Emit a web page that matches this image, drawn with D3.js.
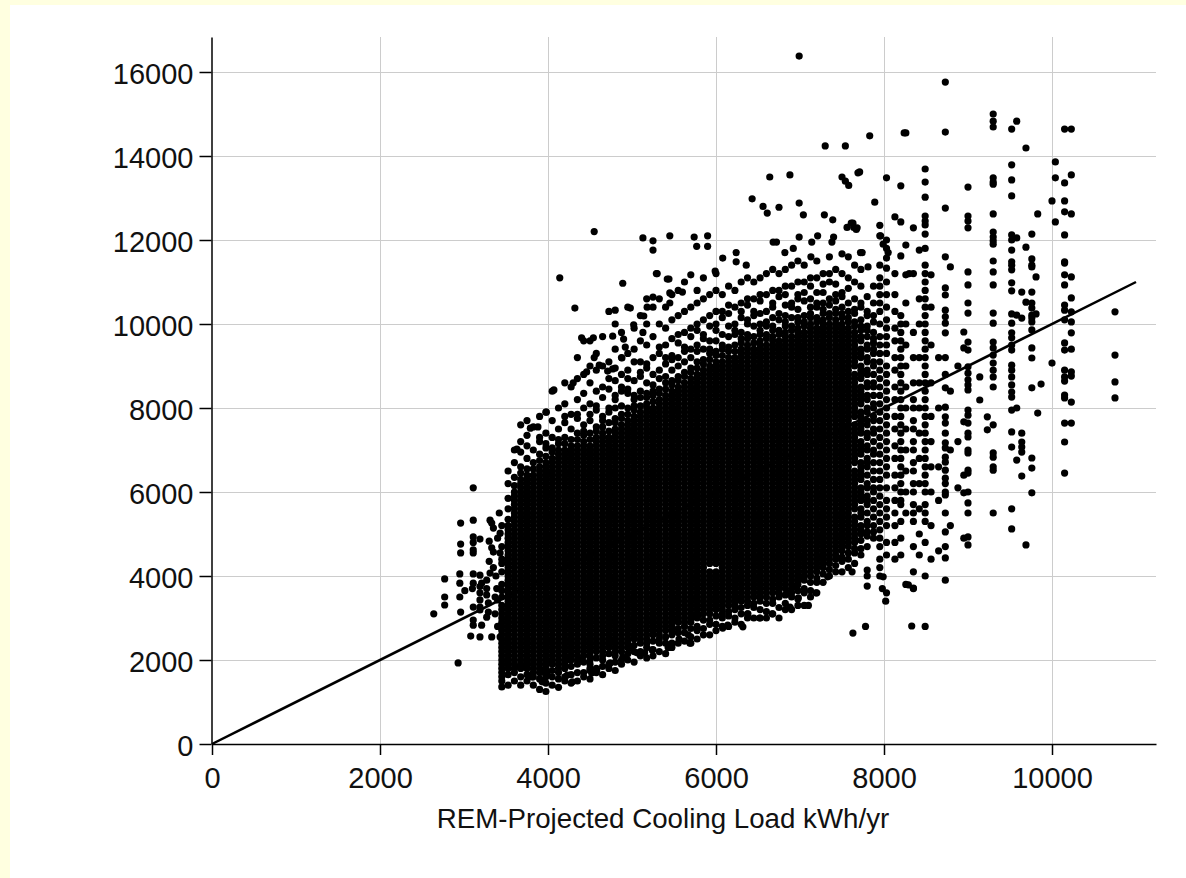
<!DOCTYPE html>
<html>
<head>
<meta charset="utf-8">
<script src="https://cdn.jsdelivr.net/npm/d3@7"></script>
<style>
  body { margin: 0; background: #fff; }
  svg { display: block; }
  text { font-family: "Liberation Sans", Arial, sans-serif; fill: #111; }
</style>
</head>
<body>
<svg id="scatter" width="1186" height="878"></svg>
<script>
const xTicks = [0, 2000, 4000, 6000, 8000, 10000];
const yTicks = [0, 2000, 4000, 6000, 8000, 10000, 12000, 14000, 16000];
const xTitle = "REM-Projected Cooling Load kWh/yr";
const fitLine = [[0, 0], [11000, 11000]];

// dense core: projected load of each column (kWh/yr)
const coreX = [3450, 3525, 3600, 3675, 3750, 3825, 3900, 3975, 4050, 4125,
  4200, 4275, 4350, 4425, 4500, 4575, 4650, 4725, 4800, 4875,
  4950, 5025, 5100, 5175, 5250, 5325, 5400, 5475, 5550, 5625,
  5700, 5775, 5850, 5925, 6000, 6075, 6150, 6225, 6300, 6375,
  6450, 6525, 6600, 6675, 6750, 6825, 6900, 6975, 7050, 7125,
  7200, 7275, 7350, 7425, 7500, 7575, 7650, 7725, 7800, 7875];
// measured loads in each core column, hundreds of kWh/yr
const coreY = [
  "13.6 15 16 17 18 19 20 21 22 23 24 25 26 27 28 29 30 31 32 33 35 36.5 38 41 44 47 52",
  "14 16.5 18 19 20 21 22 23 24 25 26 27 28 29 30 31 32 33 34 35 36 37 38 39 40 41 42 43 44 45 46 47 48 49 50 51 52 53.5 56 58.5 62 65",
  "15 17 18 19 20 21 22 23 24 25 26 27 28 29 30 31 32 33 34 35 36 37 38 39 40 41 42 43 44 45 46 47 48 49 50 51 52 53 54 55 56 57 58 59 60 61.5 63.5 67 70",
  "14 16 18 19 20 21 22 23 24 25 26 27 28 29 30 31 32 33 34 35 36 37 38 39 40 41 42 43 44 45 46 47 48 49 50 51 52 53 54 55 56 57 58 59 60 61 62 63 64.5 66 69.5 72 76",
  "15 16.5 18 19 20 21 22 23 24 25 26 27 28 29 30 31 32 33 34 35 36 37 38 39 40 41 42 43 44 45 46 47 48 49 50 51 52 53 54 55 56 57 58 59 60 61 62 63 64 65.5 68 71 73.5 77",
  "14 16 17 18 19 20 21 22 23 24 25 26 27 28 29 30 31 32 33 34 35 36 37 38 39 40 41 42 43 44 45 46 47 48 49 50 51 52 53 54 55 56 57 58 59 60 61 62 63 64 65.5 67 70 75.5",
  "13 15.5 17 18 19 20 21 22 23 24 25 26 27 28 29 30 31 32 33 34 35 36 37 38 39 40 41 42 43 44 45 46 47 48 49 50 51 52 53 54 55 56 57 58 59 60 61 62 63 64 65 66 67.5 69 72 73 78",
  "12.5 14.5 16 17 18 19 20 21 22 23 24 25 26 27 28 29 30 31 32 33 34 35 36 37 38 39 40 41 42 43 44 45 46 47 48 49 50 51 52 53 54 55 56 57 58 59 60 61 62 63 64 65 66 67 68.5 70.5 71.5 74 79",
  "14 16 17.5 19 20 21 22 23 24 25 26 27 28 29 30 31 32 33 34 35 36 37 38 39 40 41 42 43 44 45 46 47 48 49 50 51 52 53 54 55 56 57 58 59 60 61 62 63 64 65 66 67 68 69.5 70.5 73 77 84",
  "13.5 15.5 17 18 19 20 21 22 23 24 25 26 27 28 29 30 31 32 33 34 35 36 37 38 39 40 41 42 43 44 45 46 47 48 49 50 51 52 53 54 55 56 57 58 59 60 61 62 63 64 65 66 67 68 69 70 71.5 72.5 75 80",
  "15 16 18 19 20 21 22 23 24 25 26 27 28 29 30 31 32 33 34 35 36 37 38 39 40 41 42 43 44 45 46 47 48 49 50 51 52 53 54 55 56 57 58 59 60 61 62 63 64 65 66 67 68 69 70 71.5 73 76.5 78 81 86",
  "14.5 16.5 18.5 20 21 22 23 24 25 26 27 28 29 30 31 32 33 34 35 36 37 38 39 40 41 42 43 44 45 46 47 48 49 50 51 52 53 54 55 56 57 58 59 60 61 62 63 64 65 66 67 68 69 70 71 72.5 75 78.5 85",
  "15 17 19 20 21 22 23 24 25 26 27 28 29 30 31 32 33 34 35 36 37 38 39 40 41 42 43 44 45 46 47 48 49 50 51 52 53 54 55 56 57 58 59 60 61 62 63 64 65 66 67 68 69 70 71 72.5 74 77.5 78.5 82 87 92",
  "16 17 19.5 21 22 23 24 25 26 27 28 29 30 31 32 33 34 35 36 37 38 39 40 41 42 43 44 45 46 47 48 49 50 51 52 53 54 55 56 57 58 59 60 61 62 63 64 65 66 67 68 69 70 71 72 73.5 74.5 76 80 83.5 88 96",
  "15.5 17.5 19 20 21 22 23 24 25 26 27 28 29 30 31 32 33 34 35 36 37 38 39 40 41 42 43 44 45 46 47 48 49 50 51 52 53 54 55 56 57 58 59 60 61 62 63 64 65 66 67 68 69 70 71 72.5 74 77 78.5 81 86 90 96",
  "17 18 20.5 22 23 24 25 26 27 28 29 30 31 32 33 34 35 36 37 38 39 40 41 42 43 44 45 46 47 48 49 50 51 52 53 54 55 56 57 58 59 60 61 62 63 64 65 66 67 68 69 70 71 72 73 74.5 75.5 79.5 80.5 84 89 93",
  "16.5 18.5 20 21 22 23 24 25 26 27 28 29 30 31 32 33 34 35 36 37 38 39 40 41 42 43 44 45 46 47 48 49 50 51 52 53 54 55 56 57 58 59 60 61 62 63 64 65 66 67 68 69 70 71 72 73 74 75.5 77 78 82.5 85 90 97",
  "18 19 21.5 23 24 25 26 27 28 29 30 31 32 33 34 35 36 37 38 39 40 41 42 43 44 45 46 47 48 49 50 51 52 53 54 55 56 57 58 59 60 61 62 63 64 65 66 67 68 69 70 71 72 73 74.5 76.5 79 80 84.5 87 91 103",
  "17.5 19.5 21 22 23 24 25 26 27 28 29 30 31 32 33 34 35 36 37 38 39 40 41 42 43 44 45 46 47 48 49 50 51 52 53 54 55 56 57 58 59 60 61 62 63 64 65 66 67 68 69 70 71 72 73 74 75 76.5 77.5 80 82 83 86.5 89.5 94 100",
  "19 20 22 23 24 25 26 27 28 29 30 31 32 33 34 35 36 37 38 39 40 41 42 43 44 45 46 47 48 49 50 51 52 53 54 55 56 57 58 59 60 61 62 63 64 65 66 67 68 69 70 71 72 73 74 75 76 77.5 78.5 80.5 84 85 88 92 98",
  "20 21.5 23 24 25 26 27 28 29 30 31 32 33 34 35 36 37 38 39 40 41 42 43 44 45 46 47 48 49 50 51 52 53 54 55 56 57 58 59 60 61 62 63 64 65 66 67 68 69 70 71 72 73 74 75 76 77 78.5 80 83.5 84.5 87 89 93 104",
  "19.5 22 23.5 25 26 27 28 29 30 31 32 33 34 35 36 37 38 39 40 41 42 43 44 45 46 47 48 49 50 51 52 53 54 55 56 57 58 59 60 61 62 63 64 65 66 67 68 69 70 71 72 73 74 75 76 77 78 79.5 80.5 82 83 86.5 91 94 99",
  "21 22 24 25 26 27 28 29 30 31 32 33 34 35 36 37 38 39 40 41 42 43 44 45 46 47 48 49 50 51 52 53 54 55 56 57 58 59 60 61 62 63 64 65 66 67 68 69 70 71 72 73 74 75 76 77 78 79 80.5 82.5 84 87.5 88.5 91 96 102",
  "20.5 23 24 25 26 27 28 29 30 31 32 33 34 35 36 37 38 39 40 41 42 43 44 45 46 47 48 49 50 51 52 53 54 55 56 57 58 59 60 61 62 63 64 65 66 67 68 69 70 71 72 73 74 75 76 77 78 79 80 81 82.5 83.5 86 89.5 90.5 95 100 106",
  "21 22.5 24.5 26 27 28 29 30 31 32 33 34 35 36 37 38 39 40 41 42 43 44 45 46 47 48 49 50 51 52 53 54 55 56 57 58 59 60 61 62 63 64 65 66 67 68 69 70 71 72 73 74 75 76 77 78 79 80 81.5 83 84 85.5 88 92 97 104",
  "22 24 25 26 27 28 29 30 31 32 33 34 35 36 37 38 39 40 41 42 43 44 45 46 47 48 49 50 51 52 53 54 55 56 57 58 59 60 61 62 63 64 65 66 67 68 69 70 71 72 73 74 75 76 77 78 79 80 81 82 83.5 84.5 87 89 93 94.5 100 106",
  "21.5 24 25.5 27 28 29 30 31 32 33 34 35 36 37 38 39 40 41 42 43 44 45 46 47 48 49 50 51 52 53 54 55 56 57 58 59 60 61 62 63 64 65 66 67 68 69 70 71 72 73 74 75 76 77 78 79 80 81 82 83 84.5 86 87.5 90.5 92 95 99 104",
  "23 24 26 27 28 29 30 31 32 33 34 35 36 37 38 39 40 41 42 43 44 45 46 47 48 49 50 51 52 53 54 55 56 57 58 59 60 61 62 63 64 65 66 67 68 69 70 71 72 73 74 75 76 77 78 79 80 81 82 83 84 85.5 86.5 89 91.5 92.5 96.5 101 107",
  "24 26.5 27.5 29 30 31 32 33 34 35 36 37 38 39 40 41 42 43 44 45 46 47 48 49 50 51 52 53 54 55 56 57 58 59 60 61 62 63 64 65 66 67 68 69 70 71 72 73 74 75 76 77 78 79 80 81 82 83 84 85 86.5 87.5 90 92 95.5 97.5 102 108",
  "24.5 26.5 28 29 30 31 32 33 34 35 36 37 38 39 40 41 42 43 44 45 46 47 48 49 50 51 52 53 54 55 56 57 58 59 60 61 62 63 64 65 66 67 68 69 70 71 72 73 74 75 76 77 78 79 80 81 82 83 84 85 86 87.5 88.5 91 93.5 94.5 98 103 110",
  "24 25.5 27.5 29 30 31 32 33 34 35 36 37 38 39 40 41 42 43 44 45 46 47 48 49 50 51 52 53 54 55 56 57 58 59 60 61 62 63 64 65 66 67 68 69 70 71 72 73 74 75 76 77 78 79 80 81 82 83 84 85 86 87 88.5 89.5 92 94 97 99 104",
  "25 27 28 30 31 32 33 34 35 36 37 38 39 40 41 42 43 44 45 46 47 48 49 50 51 52 53 54 55 56 57 58 59 60 61 62 63 64 65 66 67 68 69 70 71 72 73 74 75 76 77 78 79 80 81 82 83 84 85 86 87 88 89.5 91 93.5 95 98.5 100 105 108",
  "26 27.5 29.5 31 32 33 34 35 36 37 38 39 40 41 42 43 44 45 46 47 48 49 50 51 52 53 54 55 56 57 58 59 60 61 62 63 64 65 66 67 68 69 70 71 72 73 74 75 76 77 78 79 80 81 82 83 84 85 86 87 88 89 90.5 91.5 94 96.5 97.5 101 106 111",
  "26 28.5 29.5 31 32 33 34 35 36 37 38 39 40 41 43 44 45 46 47 48 49 50 51 52 53 54 55 56 57 58 59 60 61 62 63 64 65 66 67 68 69 70 71 72 73 74 75 76 77 78 79 80 81 82 83 84 85 86 87 88 89 90 91.5 93 94 96 99.5 102 107",
  "27 28.5 30.5 32 33 34 35 36 37 38 39 40 41 43 44 45 46 47 48 49 50 51 52 53 54 55 56 57 58 59 60 61 62 63 64 65 66 67 68 69 70 71 72 73 74 75 76 77 78 79 80 81 82 83 84 85 86 87 88 89 90 91 92.5 93.5 96 98.5 100 103 108 112",
  "28 30 31 32 33 34 35 36 37 38 39 40 41 42 43 44 45 46 47 48 49 50 51 52 53 54 55 56 57 58 59 60 61 62 63 64 65 66 67 68 69 70 71 72 73 74 75 76 77 78 79 80 81 82 83 84 85 86 87 88 89 90 91 92.5 94 95 97.5 101.5 103 107",
  "28 30.5 31.5 33 34 35 36 37 38 39 40 41 42 43 44 45 46 47 48 49 50 51 52 53 54 55 56 57 58 59 60 61 62 63 64 65 66 67 68 69 70 71 72 73 74 75 76 77 78 79 80 81 82 83 84 85 86 87 88 89 90 91 92 93.5 94.5 97 99.5 102.5 104.5 109",
  "29 30 32 33 34 35 36 37 38 39 40 41 42 43 44 45 46 47 48 49 50 51 52 53 54 55 56 57 58 59 60 61 62 63 64 65 66 67 68 69 70 71 72 73 74 75 76 77 78 79 80 81 82 83 84 85 86 87 88 89 90 91 92 93.5 95 97.5 98.5 100 104 108",
  "28.5 31 32.5 34 35 36 37 38 39 40 41 42 43 44 45 46 47 48 49 50 51 52 53 54 55 56 57 58 59 60 61 62 63 64 65 66 67 68 69 70 71 72 73 74 75 76 77 78 79 80 81 82 83 84 85 86 87 88 89 90 91 92 93 94 95.5 96.5 98 101.5 103 105 110",
  "30 31 33 34 35 36 37 38 39 40 41 42 43 44 45 46 47 48 49 50 51 52 53 54 55 56 57 58 59 60 61 62 63 64 65 66 67 68 69 70 71 72 73 74 75 76 77 78 79 80 81 82 83 84 85 86 87 88 89 90 91 92 93 94 95 96.5 97.5 100 101 104.5 106 111",
  "30 32.5 33.5 35 36 37 38 39 40 41 42 43 44 45 46 47 48 49 50 51 52 53 54 55 56 57 58 59 60 61 62 63 64 65 66 67 68 69 70 71 72 73 74 75 76 77 78 79 80 81 82 83 84 85 86 87 88 89 90 91 92 93 94 95.5 97 99.5 102 103 106 110",
  "30 32 34 35 36 37 38 39 40 41 42 43 44 45 46 47 48 49 50 51 52 53 54 55 56 57 58 59 60 61 62 63 64 65 66 67 68 69 70 71 72 73 74 75 76 77 78 79 80 81 82 83 84 85 86 87 88 89 90 91 92 93 94 95 96 97.5 98.5 100 102.5 105.5 107 111",
  "30 31.5 33.5 35 36 37 38 39 40 41 42 43 44 45 46 47 48 49 50 51 52 53 54 55 56 57 58 59 60 61 62 63 64 65 66 67 68 69 70 71 72 73 74 75 76 77 78 79 80 81 82 83 84 85 86 87 88 89 90 91 92 93 94 95 96.5 97.5 99.5 100.5 103 107 112",
  "31 33.5 34.5 36 37 38 39 40 41 42 43 44 45 46 47 48 49 50 51 52 53 54 55 56 57 58 59 60 61 62 63 64 65 66 67 68 69 70 71 72 73 74 75 76 77 78 79 80 81 82 83 84 85 86 87 88 89 90 91 92 93 94 95 96 97 98.5 99.5 101.5 104 105 108 113",
  "30 32.5 35 36 37 38 39 40 41 42 43 44 45 46 47 48 49 50 51 52 53 54 55 56 57 58 59 60 61 62 63 64 65 66 67 68 69 70 71 72 73 74 75 76 77 78 79 80 81 82 83 84 85 86 87 88 89 90 91 92 93 94 95 96 97.5 98.5 101 102.5 106.5 108 112",
  "32 33.5 35.5 37 38 39 40 41 42 43 44 45 46 47 48 49 50 51 52 53 54 55 56 57 58 59 60 61 62 63 64 65 66 67 68 69 70 71 72 73 74 75 76 77 78 79 80 81 82 83 84 85 86 87 88 89 90 91 92 93 94 95 96 97 98 99.5 100.5 102 104.5 107 109 113",
  "32 35 36 37 38 39 40 41 42 43 44 45 46 47 48 49 50 51 52 53 54 55 56 57 58 59 60 61 62 63 64 65 66 67 68 69 70 71 72 73 74 75 76 77 78 79 80 81 82 83 84 85 86 87 88 89 90 91 92 93 94 95 96 97 98.5 99.5 101.5 104 105 109 114",
  "33 34.5 36.5 38 39 40 41 42 43 44 45 46 47 48 49 50 51 52 53 54 55 56 57 58 59 60 61 62 63 64 65 66 67 68 69 70 71 72 73 74 75 76 77 78 79 80 81 82 83 84 85 86 87 88 89 90 91 92 93 94 95 96 97 98 99 100.5 101.5 103.5 106 107 110 115",
  "33 36 37 39 40 41 42 43 44 45 46 47 48 49 50 51 52 53 54 55 56 57 58 59 60 61 62 63 64 65 66 67 68 69 70 71 72 73 74 75 76 77 78 79 80 81 82 83 84 85 86 87 88 89 90 91 92 93 94 95 96 97 98 99.5 100.5 102 105.5 107.5 110 114",
  "35 36.5 38.5 40 41 42 43 44 45 46 47 48 49 50 51 52 53 54 55 56 57 58 59 60 61 62 63 64 65 66 67 68 69 70 71 72 73 74 75 76 77 78 79 80 81 82 83 84 85 86 87 88 89 90 91 92 93 94 95 96 97 98 99 100 101.5 102.5 104 106 109 111",
  "36 38.5 39.5 41 42 43 44 45 46 47 48 49 50 51 52 53 54 55 56 57 58 59 60 61 62 63 64 65 66 67 68 69 70 71 72 73 74 75 76 77 78 79 80 81 82 83 84 85 86 87 88 89 90 91 92 93 94 95 96 97 98 99 100.5 101.5 104 105 107.5 111 115",
  "38.5 40.5 42 43 44 45 46 47 48 49 50 51 52 53 54 55 56 57 58 59 60 61 62 63 64 65 66 67 68 69 70 71 72 73 74 75 76 77 78 79 80 81 82 83 84 85 86 87 88 89 90 91 92 93 94 95 96 97 98 99 100 101 102.5 103.5 105 107.5 109.5 112",
  "40 41.5 43 44 45 46 47 48 49 50 51 52 53 54 55 56 57 58 59 60 61 62 63 64 65 66 67 68 69 70 71 72 73 74 75 76 77 78 79 80 81 82 83 84 85 86 87 88 89 90 91 92 93 94 95 96 97 98 99 100 101.5 102.5 104.5 106 110 112 116",
  "41 42.5 44 45 46 47 48 49 50 51 52 53 54 55 56 57 58 59 60 61 62 63 64 65 66 67 68 69 70 71 72 73 74 75 76 77 78 79 80 81 82 83 84 85 86 87 88 89 90 91 92 93 94 95 96 97 98 99 100 101 102.5 103.5 105.5 107 109.5 113",
  "41 43.5 44.5 46 47 48 49 50 51 52 53 54 55 56 57 58 59 60 61 62 63 64 65 66 67 68 69 70 71 72 73 74 75 76 77 78 79 80 81 82 83 84 85 86 87 88 89 90 91 92 93 94 95 96 97 98 99 100 101.5 102.5 104 106.5 107.5 112",
  "42 44 45.5 47 48 49 50 51 52 53 54 55 56 57 58 59 60 61 62 63 64 65 66 67 68 69 70 71 72 73 74 75 76 77 78 79 80 81 82 83 84 85 86 87 88 89 90 91 92 93 94 95 96 97 98 99 100.5 101.5 103 105 108.5 111 116",
  "43 45.5 46.5 48 49 50 51 52 53 54 56 57 58 59 60 61 62 63 64 65 67 68 69 70 71 72 73 74 75 76 78 79 80 81 82 83 84 85 86 87 88 90 91 92 93 94 95 96 97 98 99.5 100.5 102.5 103.5 106 110 114",
  "45 46.5 48.5 50 51 52 54 55 56 58 59 60 61 63 64 65 66 67 69 70 71 72 74 75 76 77 78 79 81 82 83 84 85 87 88 89 90 92 93 94 96 97 98.5 99.5 101 104 105 109 113",
  "47 49.5 50.5 52 53 55 57 58 59 61 62 64 66 67 68 70 71 73 74 76 77 79 80 82 83 85 86 88 89 91 92 94 95 97 98.5 99.5 102 103 106.5",
  "49 50.5 52 54 56 58 60 61 63 65 67 69 70 72 74 75 77 78 80 81 83 85 86 88 90 91 93 94 95.5 96.5 98 100.5 102 105 109"
];

// sparser columns to the right of the core (kWh/yr) and their loads (hundreds of kWh/yr)
const edgeX = [7950, 8030, 8130, 8200, 8260, 8350, 8420, 8490, 8560, 8650,
  8730, 8790, 8880, 8950, 9000, 9140, 9230, 9300, 9520, 9580,
  9640, 9690, 9760, 9810, 9830, 9870, 10000, 10040, 10150, 10230, 10750];
const edgeY = [
  "40 42 44 47 49 51 53 55 57 59 61 63 65 67 69 71 73 75 77 79 81 83 85 87 89 91 93 95 97 100 103 105 107 109 111 114 121 123.5",
  "36 45 48 52 54 56 58 61 64 66 68 70 72 74 76 78 80 82 84 86 88 90 93 95 97 99 101 104 107 110 113.3 115.7 118 120 134.8",
  "44 48 52 55 58 61 64 68 71 75 78 82 85 89 92 96 99 103 107 112 125.5",
  "45 49 53 57 58 60 62 64 66 68 70 72 74 76 78 80 82 84 86 88 90 92 94 96 98 100 102 116.2 124.3 132.9",
  "38 55 60 65 70 75 80 85 90 95 100 105 111.7 118.8 145.5",
  "37 41 47 53 55 57 60 62 65 67 70 72 75 77 80 82 86 92 98 112 122.9",
  "45 50 56 62 68 74 80 86 92 100 106 117.6",
  "28 40 48 53 55 57 60 62 64 66 68 70 72 74 76 78 80 82 84 86 88 90 92 94 96 98 100 102 104 106 108 110 112 114 118 121.4 123.6 124.5 125.7 130.2 133.8 136.9",
  "44 52 60 66 72 78 86 95 104 111.7",
  "46 58 66 80 92",
  "39 44.3 47 50.5 55 59.3 60 62 63.3 65.2 67.1 68.3 70.5 71.7 74 76.4 77.9 80.2 84.8 88 92 97.9 100.2 101.7 103.3 106.9 108.6 116 127.6 145.7 157.6",
  "52 70 84 113.6",
  "61 72 90",
  "49 59.8 64 76.7 94.3 98.1",
  "47.4 49.3 55 57.4 60 64.5 65.2 69.3 70 73.1 74 76.4 78.3 79.5 84.3 85.5 86.7 88.3 89.8 93.8 95.7 102.6 105 109.3 112.4 122.9 124.5 125.7 132.6",
  "81.9 87.4",
  "74.8 77.9",
  "55 65.2 66 68.3 69.3 76 85 87.4 89 90.7 92.6 94.3 95.7 100.2 102.6 109.3 112.4 115 119 119.8 120.7 121.9 126.2 133.3 133.8 134.8 146.9 148.3 150",
  "51.2 56 70.7 74.3 79.5 82.6 83.8 85.5 87.4 89 90.2 93.8 95 96.7 97.9 100.2 102.4 107.9 109.8 112.9 114 114.8 117.6 120 121.2 130.5 134.3 137.9 146.4",
  "67.6 80 102.1 120.5 148.3",
  "63.8 69.5 70.7 71.9 74 101.4 107.6",
  "47.4 105.2 118.3 141.9",
  "59.8 65.7 68.1 84.8 91.9 94.3 98.6 100.5 101.4 102.1 103.8 105 107.6 113.6 114 115.5 121.4",
  "102.4 111.2",
  "78.8 126.2",
  "85.7",
  "90.7 129.3",
  "124.3 134.8 138.6",
  "64.5 71.9 76.4 82.4 83.1 86.4 87.4 89 93.8 95.5 101 103.3 104.5 109.3 111.7 114.5 114.8 121.2 126.7 129.3 133.6 146.4",
  "76.4 81.4 87.6 88.6 94 97.9 100.5 102.9 106.2 111.2 126.2 135.5 146.4",
  "82.4 86.2 92.6 102.9"
];

// single homes off the columns: [projected kWh/yr, measured hundreds of kWh/yr]
const scattered = [
  [3110, 61], [2960, 52.6], [3110, 53.3], [3310, 53.3], [3330, 52.6], [3350, 51.4], [3420, 55], [3430, 50.2],
  [2960, 47.6], [2960, 45.5], [3110, 49.3], [3110, 48], [3110, 46.2], [3110, 45.5], [3190, 48.8], [3300, 48.3],
  [3330, 46.7], [3350, 45.7], [3400, 49], [3430, 45.5], [3450, 43], [2770, 39.3], [2950, 40.5], [2950, 38.3],
  [3110, 40.5], [3110, 38.3], [3190, 40.2], [3210, 38.3], [3310, 40.7], [3270, 39], [3100, 37], [3010, 36.5],
  [3190, 37.5], [3270, 37], [3390, 37], [2770, 35], [2770, 33.1], [2950, 35], [3190, 36], [3190, 34.3],
  [3190, 32.6], [3190, 31.9], [3270, 35.5], [3290, 33.6], [3290, 31.4], [3270, 30.2], [3370, 35], [3400, 34.3],
  [3110, 32.6], [3110, 29.5], [3110, 28.3], [3210, 28.3], [2960, 31.4], [2640, 31], [3080, 25.7], [3190, 25.5],
  [3330, 25.5], [3430, 25.5], [2930, 19.3], [3400, 28], [3370, 31], [3350, 42], [3380, 40], [3300, 43.5],
  [4140, 111], [4320, 103.8], [4550, 122], [4890, 109.7], [4800, 103.3], [4980, 103.8], [4400, 96.7], [4540, 96.7],
  [4770, 97.1], [4900, 96.4], [5020, 99.8], [5140, 101.9], [5250, 106.4], [5300, 112], [5440, 110.7], [5700, 111.7],
  [5600, 107.6], [5450, 107.4], [5450, 105], [5180, 104], [4070, 84.3], [3980, 79], [3880, 75.5], [3630, 70.2],
  [3790, 75.2], [4300, 86], [4460, 88.6], [4550, 92], [4610, 90.2], [4710, 88.8], [4770, 89.3], [4880, 91.9],
  [4920, 94.5], [5130, 98], [5130, 120.5], [5250, 119.8], [5250, 117.6], [5450, 121], [5740, 120.7], [5770, 118.5],
  [5900, 121], [5900, 118.5], [5290, 112], [5420, 110.7], [5990, 112.6], [6080, 115.7], [6240, 117], [6240, 114.8],
  [6360, 114], [6430, 129.8], [6560, 128], [6610, 126.4], [6750, 127.8], [6640, 135], [6880, 135.5], [6990, 128.8],
  [7040, 126], [7290, 126], [7390, 124.8], [7300, 142.4], [7540, 142.4], [7500, 135], [7540, 134], [7580, 133],
  [7690, 136], [7560, 123], [7610, 124], [7640, 123], [7670, 122.5], [6990, 120.7], [7210, 121], [7140, 119.5],
  [7400, 120.7], [7380, 119.5], [6680, 119.5], [6720, 119.5], [6920, 118], [6820, 117], [7130, 116], [7500, 116.7],
  [7720, 117], [6990, 163.8], [7630, 124], [7680, 122.9], [7960, 121], [7990, 119], [8050, 117], [7890, 129],
  [7710, 136.2], [7830, 144.8], [7810, 113.6], [7740, 117], [8300, 112], [8240, 145.5],
  [5670, 26], [5730, 30.7], [5790, 30.7], [6080, 27.6], [6140, 28.3], [5560, 25], [5690, 24], [5430, 23],
  [5240, 22.4], [5150, 21.7], [5060, 21.7], [4980, 22.8], [4890, 20.7], [4740, 19.3], [4580, 17.6], [4500, 18],
  [4520, 16.9], [4260, 20], [4380, 20], [4230, 16.4], [4290, 14.8], [3930, 14.8], [3930, 17.1], [3990, 16.9],
  [3790, 16.4], [3810, 16], [3670, 18.3], [3730, 18.3], [6320, 27.9], [6380, 31], [6520, 30], [6670, 31],
  [6880, 32.6], [7100, 33], [7190, 36], [6980, 34.8], [6880, 36], [6960, 37.4], [7630, 26.4], [7780, 28],
  [7800, 37.6], [7980, 37], [8020, 34], [7990, 39.8], [8290, 37.9], [8350, 37.1], [8330, 28.1], [7620, 41],
  [7800, 41.4], [7800, 40], [7330, 39.8]
];

const points = [];
coreX.forEach((cx, i) => coreY[i].split(" ").forEach((v) => points.push([cx, +v * 100])));
edgeX.forEach((cx, i) => edgeY[i].split(" ").forEach((v) => points.push([cx, +v * 100])));
scattered.forEach(([sx, sy]) => points.push([sx, sy * 100]));

const svg = d3.select("#scatter"),
  width = +svg.attr("width"),
  height = +svg.attr("height");

// pale frame on the left and top, white page
svg.append("rect").attr("width", width).attr("height", height).attr("fill", "#ffffe0");
svg.append("rect").attr("x", 10).attr("y", 5)
  .attr("width", width - 10).attr("height", height - 5).attr("fill", "#fff");

const plotLeft = 212, plotRight = 1156, plotTop = 37, plotBottom = 744;
const x = d3.scaleLinear().domain([0, (plotRight - plotLeft) / 0.084]).range([plotLeft, plotRight]);
const y = d3.scaleLinear().domain([0, (plotBottom - plotTop) / 0.042]).range([plotBottom, plotTop]);

// grid
svg.append("g")
  .attr("transform", `translate(${plotLeft},0)`)
  .call(d3.axisLeft(y).tickValues(yTicks.slice(1)).tickSize(-(plotRight - plotLeft)).tickFormat(""))
  .call((g) => g.select(".domain").remove())
  .call((g) => g.selectAll("line").attr("stroke", "#cccccc").attr("stroke-width", 1));
svg.append("g")
  .attr("transform", `translate(0,${plotBottom})`)
  .call(d3.axisBottom(x).tickValues(xTicks.slice(1)).tickSize(-(plotBottom - plotTop)).tickFormat(""))
  .call((g) => g.select(".domain").remove())
  .call((g) => g.selectAll("line").attr("stroke", "#cccccc").attr("stroke-width", 1));

// homes
svg.append("g")
  .selectAll("circle")
  .data(points)
  .join("circle")
  .attr("cx", (d) => x(d[0]))
  .attr("cy", (d) => y(d[1]))
  .attr("r", 3.6)
  .attr("fill", "#000");

// one-to-one line
svg.append("path")
  .datum(fitLine)
  .attr("fill", "none")
  .attr("stroke", "#000")
  .attr("stroke-width", 2.5)
  .attr("d", d3.line().x((d) => x(d[0])).y((d) => y(d[1])));

// axes
const yAxis = svg.append("g")
  .attr("transform", `translate(${plotLeft - 0.5},0)`)
  .call(d3.axisLeft(y).tickValues(yTicks).tickFormat(d3.format("d"))
    .tickSize(12).tickSizeOuter(0).tickPadding(6));
const xAxis = svg.append("g")
  .attr("transform", `translate(0,${plotBottom})`)
  .call(d3.axisBottom(x).tickValues(xTicks).tickFormat(d3.format("d"))
    .tickSize(11).tickSizeOuter(0).tickPadding(12));

[yAxis, xAxis].forEach((g) => {
  g.selectAll(".domain, line").attr("stroke", "#000").attr("stroke-width", 1.5);
  g.selectAll("text").attr("font-size", 29).attr("font-family", null).attr("fill", "#111");
});
yAxis.selectAll("text").attr("dy", "0.41em");

svg.append("text")
  .attr("x", 663)
  .attr("y", 828)
  .attr("text-anchor", "middle")
  .attr("font-size", 27.7)
  .text(xTitle);
</script>
</body>
</html>
